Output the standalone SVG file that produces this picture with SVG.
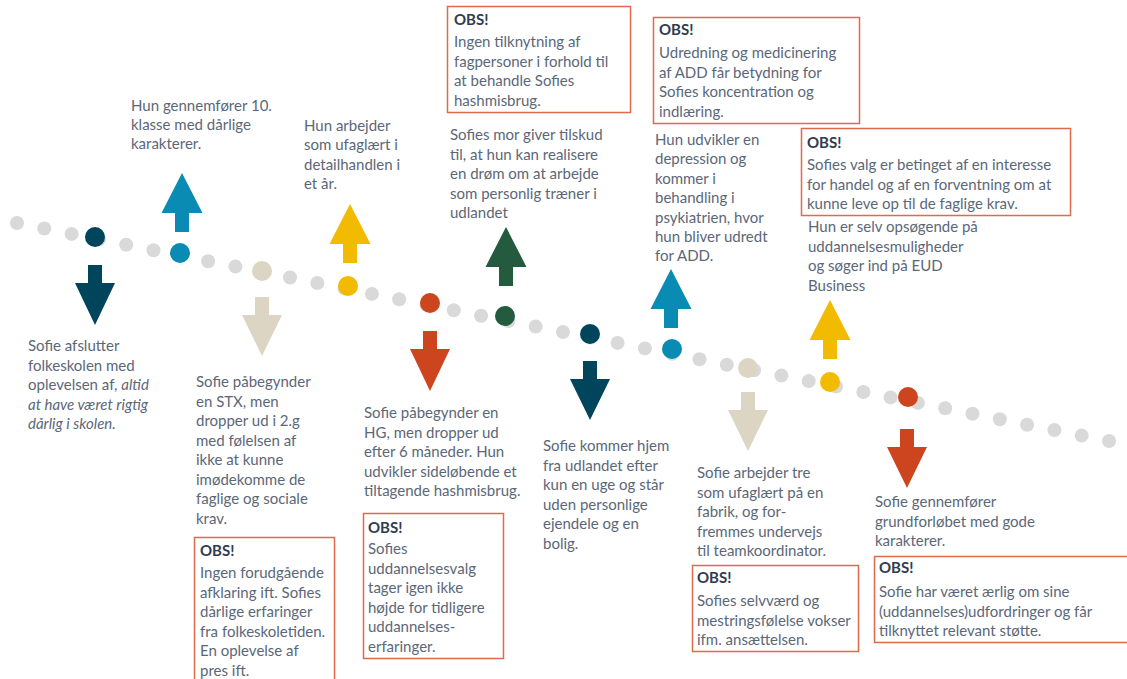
<svg xmlns="http://www.w3.org/2000/svg" width="1127" height="679" viewBox="0 0 1127 679">
<style>
.t{font-family:Lato,"Liberation Sans",sans-serif;font-size:15px;fill:#5b6778}
.b{font-family:Lato,"Liberation Sans",sans-serif;font-size:15px;font-weight:bold;fill:#2f3c4f}
.i{font-style:italic}
.box{fill:#fff;stroke:#e06a4c;stroke-width:1.5}
.g{fill:#d9d9d9}
.c1{fill:#00455c}.c2{fill:#0a8bb4}.c3{fill:#ddd5c4}.c4{fill:#f2bb00}.c5{fill:#cd451f}.c6{fill:#245a3e}
</style>
<rect width="1127" height="679" fill="#fff"/>
<g id="timeline" class="g">
<circle cx="17" cy="223" r="7"/><circle cx="44.3" cy="228.5" r="7"/><circle cx="71.6" cy="233.9" r="7"/><circle cx="98.9" cy="239.4" r="7"/><circle cx="126.2" cy="244.8" r="7"/><circle cx="153.5" cy="250.3" r="7"/><circle cx="180.8" cy="255.7" r="7"/><circle cx="208.1" cy="261.2" r="7"/><circle cx="235.4" cy="266.6" r="7"/><circle cx="262.7" cy="272.1" r="7"/><circle cx="290" cy="277.5" r="7"/><circle cx="317.3" cy="283" r="7"/><circle cx="344.6" cy="288.4" r="7"/><circle cx="371.9" cy="293.9" r="7"/><circle cx="399.2" cy="299.3" r="7"/><circle cx="426.5" cy="304.8" r="7"/><circle cx="453.8" cy="310.2" r="7"/><circle cx="481.1" cy="315.7" r="7"/><circle cx="508.4" cy="321.1" r="7"/><circle cx="535.7" cy="326.6" r="7"/><circle cx="563" cy="332" r="7"/><circle cx="590.3" cy="337.5" r="7"/><circle cx="617.6" cy="342.9" r="7"/><circle cx="644.9" cy="348.4" r="7"/><circle cx="672.2" cy="353.8" r="7"/><circle cx="699.5" cy="359.3" r="7"/><circle cx="726.8" cy="364.7" r="7"/><circle cx="754.1" cy="370.2" r="7"/><circle cx="781.4" cy="375.6" r="7"/><circle cx="808.7" cy="381.1" r="7"/><circle cx="836" cy="386.5" r="7"/><circle cx="863.3" cy="392" r="7"/><circle cx="890.6" cy="397.4" r="7"/><circle cx="917.9" cy="402.9" r="7"/><circle cx="945.2" cy="408.3" r="7"/><circle cx="972.5" cy="413.8" r="7"/><circle cx="999.8" cy="419.2" r="7"/><circle cx="1027.1" cy="424.7" r="7"/><circle cx="1054.4" cy="430.1" r="7"/><circle cx="1081.7" cy="435.6" r="7"/><circle cx="1109" cy="441" r="7"/>
</g>

<g id="e1">
<circle class="c1" cx="95" cy="237" r="10"/>
<path class="c1" d="M88,265 H102 V283 H115 L95,325 L75,283 H88 Z"/>
<text class="t" x="28" y="351">Sofie afslutter</text>
<text class="t" x="28" y="370.5">folkeskolen med</text>
<text class="t" x="28" y="390">oplevelsen af, <tspan class="i">altid</tspan></text>
<text class="t i" x="28" y="409.5">at have været rigtig</text>
<text class="t i" x="28" y="429">dårlig i skolen.</text>
</g>

<g id="e2">
<circle class="c2" cx="180" cy="253" r="10"/>
<path class="c2" d="M182,173 L202.5,213 H189 V232 H175 V213 H161.5 Z"/>
<text class="t" x="131" y="111">Hun gennemfører 10.</text>
<text class="t" x="131" y="130">klasse med dårlige</text>
<text class="t" x="131" y="149">karakterer.</text>
</g>

<g id="e3">
<circle class="c3" cx="262" cy="271" r="10"/>
<path class="c3" d="M255,297 H269 V315 H282 L262,356 L242,315 H255 Z"/>
<text class="t" x="196" y="387">Sofie påbegynder</text>
<text class="t" x="196" y="406.5">en STX, men</text>
<text class="t" x="196" y="426">dropper ud i 2.g</text>
<text class="t" x="196" y="445.5">med følelsen af</text>
<text class="t" x="196" y="465">ikke at kunne</text>
<text class="t" x="196" y="484.5">imødekomme de</text>
<text class="t" x="196" y="504">faglige og sociale</text>
<text class="t" x="196" y="523.5">krav.</text>
<rect class="box" x="194.5" y="537.5" width="140" height="150"/>
<text class="b" x="200" y="556">OBS!</text>
<text class="t" x="200" y="578">Ingen forudgående</text>
<text class="t" x="200" y="597.5">afklaring ift. Sofies</text>
<text class="t" x="200" y="617">dårlige erfaringer</text>
<text class="t" x="200" y="636.5">fra folkeskoletiden.</text>
<text class="t" x="200" y="656">En oplevelse af</text>
<text class="t" x="200" y="675.5">pres ift.</text>
</g>

<g id="e4">
<circle class="c4" cx="348" cy="286" r="10"/>
<path class="c4" d="M350,204 L370.5,244 H357 V263 H343 V244 H329.5 Z"/>
<text class="t" x="304" y="131">Hun arbejder</text>
<text class="t" x="304" y="150.3">som ufaglært i</text>
<text class="t" x="304" y="169.6">detailhandlen i</text>
<text class="t" x="304" y="189">et år.</text>
</g>

<g id="e5">
<circle class="c5" cx="430" cy="303" r="10"/>
<path class="c5" d="M423,331 H437 V349 H450 L430,391 L410,349 H423 Z"/>
<text class="t" x="364" y="418">Sofie påbegynder en</text>
<text class="t" x="364" y="437.5">HG, men dropper ud</text>
<text class="t" x="364" y="457">efter 6 måneder. Hun</text>
<text class="t" x="364" y="476.5">udvikler sideløbende et</text>
<text class="t" x="364" y="496">tiltagende hashmisbrug.</text>
<rect class="box" x="363.5" y="513.5" width="140" height="145"/>
<text class="b" x="368" y="533">OBS!</text>
<text class="t" x="368" y="554">Sofies</text>
<text class="t" x="368" y="573.5">uddannelsesvalg</text>
<text class="t" x="368" y="593">tager igen ikke</text>
<text class="t" x="368" y="612.5">højde for tidligere</text>
<text class="t" x="368" y="632">uddannelses-</text>
<text class="t" x="368" y="651.5">erfaringer.</text>
</g>

<g id="e6">
<circle class="c6" cx="505" cy="316" r="10"/>
<path class="c6" d="M506,227 L526.5,267 H513 V286 H499 V267 H485.5 Z"/>
<rect class="box" x="447.5" y="6.5" width="183" height="106"/>
<text class="b" x="454" y="25">OBS!</text>
<text class="t" x="454" y="47">Ingen tilknytning af</text>
<text class="t" x="454" y="66.5">fagpersoner i forhold til</text>
<text class="t" x="454" y="86">at behandle Sofies</text>
<text class="t" x="454" y="105.5">hashmisbrug.</text>
<text class="t" x="450" y="140">Sofies mor giver tilskud</text>
<text class="t" x="450" y="159.5">til, at hun kan realisere</text>
<text class="t" x="450" y="179">en drøm om at arbejde</text>
<text class="t" x="450" y="198.5">som personlig træner i</text>
<text class="t" x="450" y="218">udlandet</text>
</g>

<g id="e7">
<circle class="c1" cx="590" cy="334" r="10"/>
<path class="c1" d="M583,361 H597 V379 H610 L590,420 L570,379 H583 Z"/>
<text class="t" x="543" y="451">Sofie kommer hjem</text>
<text class="t" x="543" y="470.5">fra udlandet efter</text>
<text class="t" x="543" y="490">kun en uge og står</text>
<text class="t" x="543" y="509.5">uden personlige</text>
<text class="t" x="543" y="529">ejendele og en</text>
<text class="t" x="543" y="548.5">bolig.</text>
</g>

<g id="e8">
<circle class="c2" cx="672" cy="349" r="10"/>
<path class="c2" d="M671,269 L691.5,309 H678 V328 H664 V309 H650.5 Z"/>
<rect class="box" x="653.5" y="17.5" width="206" height="106"/>
<text class="b" x="659" y="35">OBS!</text>
<text class="t" x="659" y="58">Udredning og medicinering</text>
<text class="t" x="659" y="77.5">af ADD får betydning for</text>
<text class="t" x="659" y="97">Sofies koncentration og</text>
<text class="t" x="659" y="116.5">indlæring.</text>
<text class="t" x="655" y="145">Hun udvikler en</text>
<text class="t" x="655" y="164.4">depression og</text>
<text class="t" x="655" y="183.8">kommer i</text>
<text class="t" x="655" y="203.2">behandling i</text>
<text class="t" x="655" y="222.6">psykiatrien, hvor</text>
<text class="t" x="655" y="242">hun bliver udredt</text>
<text class="t" x="655" y="261.4">for ADD.</text>
</g>

<g id="e9">
<circle class="c3" cx="748" cy="368" r="10"/>
<path class="c3" d="M741,392 H755 V410 H768 L748,451 L728,410 H741 Z"/>
<text class="t" x="697" y="478">Sofie arbejder tre</text>
<text class="t" x="697" y="497.5">som ufaglært på en</text>
<text class="t" x="697" y="517">fabrik, og for-</text>
<text class="t" x="697" y="536.5">fremmes undervejs</text>
<text class="t" x="697" y="556">til teamkoordinator.</text>
<rect class="box" x="692.5" y="565.5" width="166" height="86"/>
<text class="b" x="697" y="583">OBS!</text>
<text class="t" x="697" y="606">Sofies selvværd og</text>
<text class="t" x="697" y="625.5">mestringsfølelse vokser</text>
<text class="t" x="697" y="645">ifm. ansættelsen.</text>
</g>

<g id="e10">
<circle class="c4" cx="830" cy="382" r="10"/>
<path class="c4" d="M830,300 L850.5,340 H837 V359 H823 V340 H809.5 Z"/>
<rect class="box" x="801.5" y="128.5" width="269" height="87"/>
<text class="b" x="807" y="148">OBS!</text>
<text class="t" x="807" y="170">Sofies valg er betinget af en interesse</text>
<text class="t" x="807" y="189.5">for handel og af en forventning om at</text>
<text class="t" x="807" y="209">kunne leve op til de faglige krav.</text>
<text class="t" x="808" y="232">Hun er selv opsøgende på</text>
<text class="t" x="808" y="251.5">uddannelsesmuligheder</text>
<text class="t" x="808" y="271">og søger ind på EUD</text>
<text class="t" x="808" y="290.5">Business</text>
</g>

<g id="e11">
<circle class="c5" cx="908" cy="397" r="10"/>
<path class="c5" d="M900,429 H914 V447 H927 L907,488 L887,447 H900 Z"/>
<text class="t" x="875" y="507">Sofie gennemfører</text>
<text class="t" x="875" y="526.5">grundforløbet med gode</text>
<text class="t" x="875" y="546">karakterer.</text>
<rect class="box" x="874.5" y="556.5" width="260" height="86"/>
<text class="b" x="879" y="573">OBS!</text>
<text class="t" x="879" y="597">Sofie har været ærlig om sine</text>
<text class="t" x="879" y="616.5">(uddannelses)udfordringer og får</text>
<text class="t" x="879" y="636">tilknyttet relevant støtte.</text>
</g>
</svg>
